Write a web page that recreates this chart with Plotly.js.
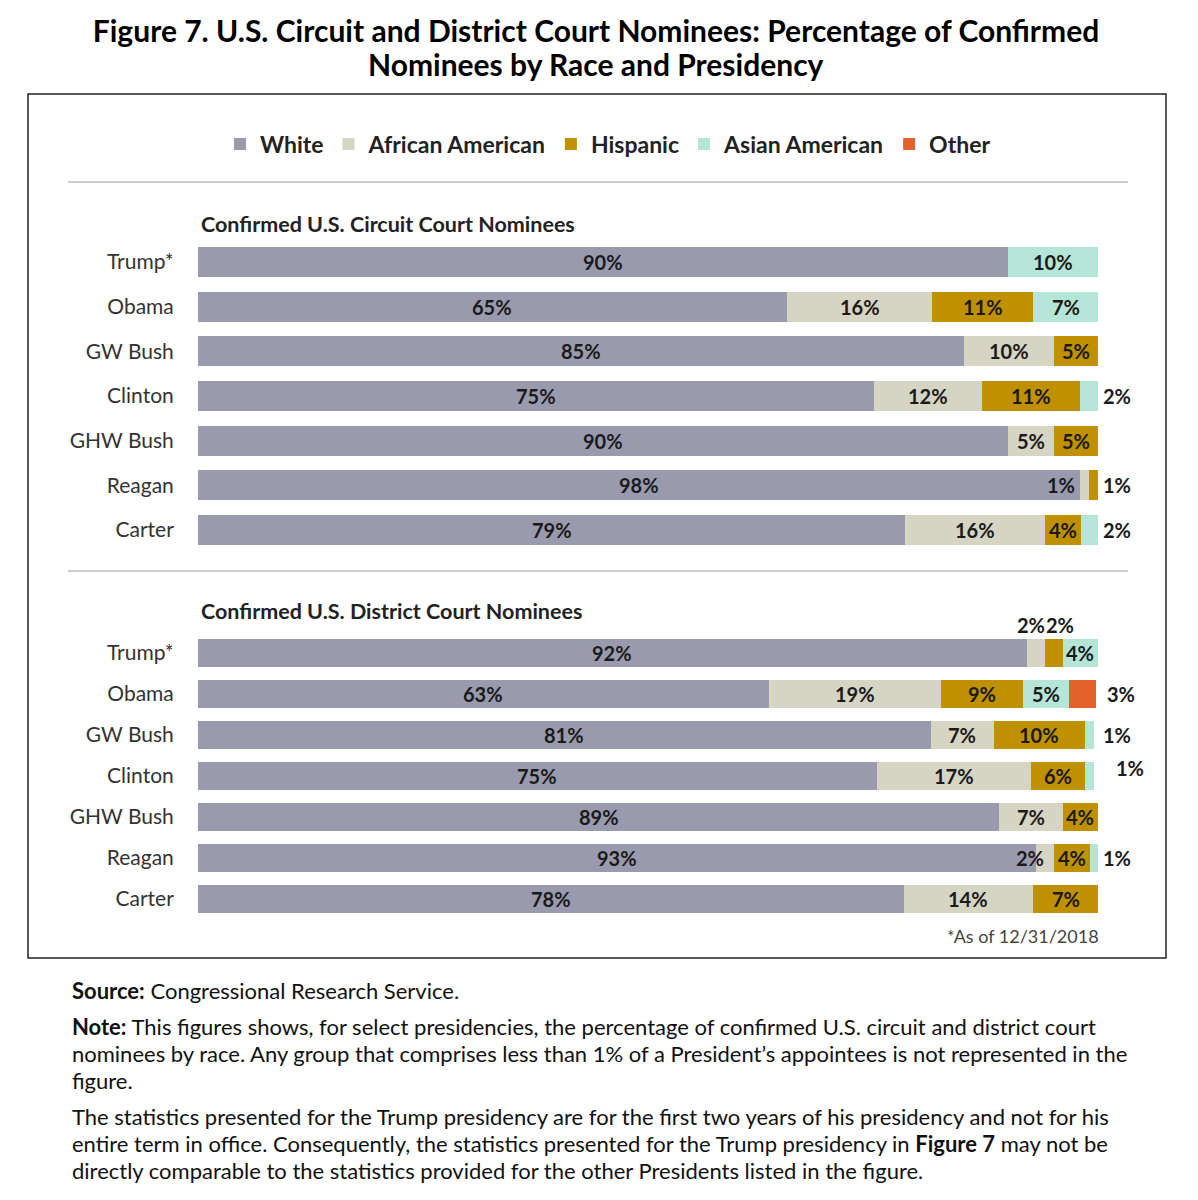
<!DOCTYPE html>
<html>
<head>
<meta charset="utf-8">
<script src="https://cdn.plot.ly/plotly-3.0.1.min.js"></script>
<style>html,body{margin:0;padding:0;background:#fff;}#chart{width:1198px;height:1200px;}</style>
</head>
<body>
<div id="chart"></div>
<script>
// ---- Data (percent of confirmed nominees) ----
const presidents = ['Trump*', 'Obama', 'GW Bush', 'Clinton', 'GHW Bush', 'Reagan', 'Carter'];
const seriesNames = ['White', 'African American', 'Hispanic', 'Asian American', 'Other'];

const circuitWhite    = [90, 65.4, 85.1, 75.1, 90, 98, 78.6];
const circuitAfrAm    = [0, 16.2, 10, 12, 5.1, 1, 15.5];
const circuitHispanic = [0, 11.2, 4.9, 10.9, 4.9, 1, 4];
const circuitAsianAm  = [10, 7.2, 0, 2, 0, 0, 2];
const circuitOther    = [0, 0, 0, 0, 0, 0, 0];

const districtWhite    = [92.1, 63.4, 81.4, 75.4, 89, 93.1, 78.4];
const districtAfrAm    = [2, 19.1, 7, 17.2, 7.1, 2, 14.4];
const districtHispanic = [2, 9.2, 10.1, 6, 3.9, 4, 7.2];
const districtAsianAm  = [3.9, 5.1, 1, 1, 0, 1, 0];
const districtOther    = [0, 3, 0, 0, 0, 0, 0];

// ---- Styles ----
const colors = ['#9a9aae', '#d6d4c3', '#bf9000', '#b5e5d7', '#e2602c'];
const chartFont = 'Lato, "Open Sans", sans-serif';
const docFont = 'Lato, "Noto Sans", sans-serif';

const circuit = [circuitWhite, circuitAfrAm, circuitHispanic, circuitAsianAm, circuitOther];
const district = [districtWhite, districtAfrAm, districtHispanic, districtAsianAm, districtOther];

// label placement overrides for tiny segments (panel|category|series)
const placement = {
  'c|Reagan|1': {mode: 'before', xshift: -3},
  'd|Trump*|1': {mode: 'aboveRight', xshift: 2},
  'd|Trump*|2': {mode: 'aboveLeft', xshift: -1},
  'd|Reagan|1': {mode: 'endRight', xshift: -8},
  'd|Clinton|3': {mode: 'outside', xshift: 16, yshift: 8},
  'd|Obama|4': {mode: 'outside', xshift: 7}
};

const traces = [];
const annotations = [];

function addPanel(data, key, xa, ya, showLegend) {
  data.forEach((vals, j) => {
    traces.push({
      type: 'bar', orientation: 'h', name: seriesNames[j],
      y: presidents, x: vals, xaxis: xa, yaxis: ya,
      marker: {color: colors[j], line: {width: 0}},
      showlegend: showLegend, legendgroup: seriesNames[j],
      hoverinfo: 'name+x'
    });
  });
  presidents.forEach((p, i) => {
    let lastJ = -1;
    data.forEach((vals, j) => { if (vals[i] > 0) lastJ = j; });
    let cum = 0;
    data.forEach((vals, j) => {
      const v = vals[i];
      if (v <= 0) return;
      const start = cum, end = cum + v;
      cum = end;
      const txt = Math.round(v) + '%';
      const ov = placement[key + '|' + p + '|' + j];
      let a = {xref: xa, yref: ya, y: p, text: '<b>' + txt + '</b>', showarrow: false,
               font: {family: chartFont, size: 20, color: '#1a1a1a'}, x: (start + end) / 2, xanchor: 'center'};
      let mode = ov ? ov.mode : ((v < 3 && j === lastJ) ? 'outside' : 'center');
      if (mode === 'outside') { a.x = 100; a.xanchor = 'left'; a.xshift = 3; }
      else if (mode === 'before') { a.x = start; a.xanchor = 'right'; }
      else if (mode === 'endRight') { a.x = end; a.xanchor = 'right'; }
      else if (mode === 'aboveRight') { a.x = end; a.xanchor = 'right'; a.yshift = 28; }
      else if (mode === 'aboveLeft') { a.x = start; a.xanchor = 'left'; a.yshift = 28; }
      if (ov && ov.xshift !== undefined) a.xshift = ov.xshift;
      if (ov && ov.yshift !== undefined) a.yshift = ov.yshift;
      annotations.push(a);
    });
  });
}

addPanel(circuit, 'c', 'x', 'y', true);
addPanel(district, 'd', 'x2', 'y2', false);

const W = 1198, H = 1200;
const px = v => v / W;
const py = v => 1 - v / H;

function textLine(x, y, text, size, anchor) {
  return {xref: 'paper', yref: 'paper', x: px(x), y: py(y), xanchor: anchor || 'left', yanchor: 'middle',
          showarrow: false, align: 'left', text: text, font: {family: docFont, size: size, color: '#111'}};
}

// Title second line, panel subtitles, footnotes, source notes
annotations.push(
  {xref: 'paper', yref: 'paper', x: px(596), y: py(64), xanchor: 'center', yanchor: 'middle', showarrow: false,
   text: '<b>Nominees by Race and Presidency</b>', font: {family: docFont, size: 30, color: '#000'}},
  {xref: 'paper', yref: 'paper', x: px(199), y: py(224), xanchor: 'left', yanchor: 'middle', showarrow: false,
   text: '<b>Confirmed U.S. Circuit Court Nominees</b>', font: {family: chartFont, size: 21.5, color: '#222'}},
  {xref: 'paper', yref: 'paper', x: px(199), y: py(611), xanchor: 'left', yanchor: 'middle', showarrow: false,
   text: '<b>Confirmed U.S. District Court Nominees</b>', font: {family: chartFont, size: 21.5, color: '#222'}},
  {xref: 'paper', yref: 'paper', x: px(1101), y: py(936), xanchor: 'right', yanchor: 'middle', showarrow: false,
   text: '*As of 12/31/2018', font: {family: chartFont, size: 18, color: '#444'}},
  textLine(70, 990, '<b>Source:</b> Congressional Research Service.', 22),
  textLine(70, 1026, '<b>Note:</b> This figures shows, for select presidencies, the percentage of confirmed U.S. circuit and district court', 22),
  textLine(70, 1053, 'nominees by race. Any group that comprises less than 1% of a President\u2019s appointees is not represented in the', 22),
  textLine(70, 1080, 'figure.', 22),
  textLine(70, 1116, 'The statistics presented for the Trump presidency are for the first two years of his presidency and not for his', 22),
  textLine(70, 1143, 'entire term in office. Consequently, the statistics presented for the Trump presidency in <b>Figure 7</b> may not be', 22),
  textLine(70, 1170, 'directly comparable to the statistics provided for the other Presidents listed in the figure.', 22)
);

const xDom = [px(198), px(1098)];
const yAxisCommon = {
  type: 'category', autorange: 'reversed', showgrid: false, zeroline: false, showline: false,
  ticks: 'outside', ticklen: 19, tickcolor: 'rgba(0,0,0,0)',
  tickfont: {family: chartFont, size: 21, color: '#333'}, fixedrange: true
};
const xAxisCommon = {range: [0, 100], showgrid: false, zeroline: false, showline: false, showticklabels: false, ticks: '', fixedrange: true};

const layout = {
  width: W, height: H,
  margin: {l: 0, r: 0, t: 0, b: 0},
  paper_bgcolor: '#fff', plot_bgcolor: 'rgba(0,0,0,0)',
  barmode: 'stack', bargap: 0.33,
  title: {text: '<b>Figure 7. U.S. Circuit and District Court Nominees: Percentage of Confirmed</b>',
          x: 0.4975, xanchor: 'center', y: py(31), yanchor: 'middle', font: {family: docFont, size: 30, color: '#000'}},
  showlegend: true,
  legend: {orientation: 'h', x: px(608), xanchor: 'center', y: py(144), yanchor: 'middle', traceorder: 'normal',
           font: {family: chartFont, size: 23, color: '#222', weight: 'bold'}, itemclick: false, itemdoubleclick: false,
           bgcolor: 'rgba(0,0,0,0)'},
  xaxis: Object.assign({domain: xDom, anchor: 'y'}, xAxisCommon),
  yaxis: Object.assign({domain: [py(552.3), py(239.7)], anchor: 'x'}, yAxisCommon),
  xaxis2: Object.assign({domain: xDom, anchor: 'y2'}, xAxisCommon),
  yaxis2: Object.assign({domain: [py(919.5), py(632.5)], anchor: 'x2'}, yAxisCommon),
  annotations: annotations,
  shapes: [
    {type: 'rect', xref: 'paper', yref: 'paper', x0: px(28), x1: px(1166), y0: py(958), y1: py(94), line: {color: '#222', width: 1.5}},
    {type: 'line', xref: 'paper', yref: 'paper', x0: px(68), x1: px(1128), y0: py(182), y1: py(182), line: {color: '#bdbdbd', width: 1.5}},
    {type: 'line', xref: 'paper', yref: 'paper', x0: px(68), x1: px(1128), y0: py(571), y1: py(571), line: {color: '#bdbdbd', width: 1.5}}
  ]
};

Plotly.newPlot('chart', traces, layout, {displayModeBar: false, staticPlot: true});
</script>
</body>
</html>
